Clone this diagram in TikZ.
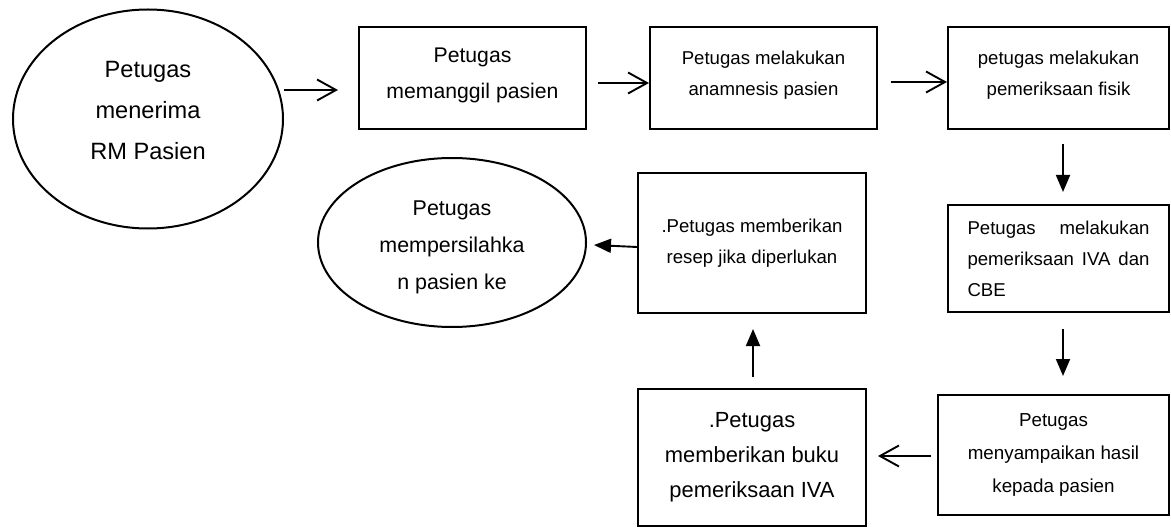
\documentclass[tikz,border=0pt]{standalone}
\usepackage{fontspec}
\setmainfont{Liberation Sans}
\usetikzlibrary{arrows.meta,shapes.geometric,calc}
% invisible struts that move a node's text block up (extra depth) or down (extra height)
\newcommand\txtup[1]{\rule[-#1]{0pt}{0pt}}
\newcommand\txtdown[1]{\rule{0pt}{#1}}
\begin{document}
\begin{tikzpicture}[x=0.5pt,y=-0.5pt,
  stepbox/.style={draw, line width=1pt, rectangle, inner sep=0pt, align=center},
  oval/.style={draw, line width=1pt, ellipse, inner sep=0pt, align=center},
  barb/.style={line width=0.95pt, -{Straight Barb[length=9.5pt,width=10.5pt,line width=0.95pt]}},
  filltip/.style={line width=0.95pt, -{Triangle[length=8.5pt,width=7pt]}},
  fA/.style={font=\fontsize{11.8pt}{20.5pt}\selectfont},
  fB/.style={font=\fontsize{10.6pt}{18pt}\selectfont},
  fC/.style={font=\fontsize{9.3pt}{15.5pt}\selectfont},
  fD/.style={font=\fontsize{10.95pt}{17.5pt}\selectfont},
  fE/.style={font=\fontsize{10.7pt}{18.5pt}\selectfont},
  fF/.style={font=\fontsize{9.4pt}{16.5pt}\selectfont}
]
\useasboundingbox (0,0) rectangle (1171,529);

% flow nodes
\node[oval, fA, minimum width=135pt, minimum height=109.5pt] (e1) at (148,119)
  {Petugas\\menerima\\RM Pasien\txtup{8.5pt}};
\node[stepbox, fB, minimum width=113.5pt, minimum height=51pt] (b1) at (472.5,78)
  {Petugas\\memanggil pasien\txtup{5pt}};
\node[stepbox, fC, minimum width=113.5pt, minimum height=51pt] (b2) at (763.5,78)
  {Petugas melakukan\\anamnesis pasien\txtup{5pt}};
\node[stepbox, fC, minimum width=110.5pt, minimum height=51pt] (b3) at (1058.5,78)
  {petugas melakukan\\pemeriksaan fisik\txtup{5pt}};
\node[stepbox, fC, align=left, minimum width=110.5pt, minimum height=53.5pt] (b4) at (1058.5,258.5)
  {\makebox[91pt][s]{Petugas melakukan}\\\makebox[91pt][s]{pemeriksaan IVA dan}\\CBE};
\node[stepbox, fF, minimum width=115.5pt, minimum height=60pt] (b5) at (1053.5,455)
  {Petugas\\menyampaikan hasil\\kepada pasien};
\node[stepbox, fD, minimum width=114pt, minimum height=68.5pt] (b6) at (752,457.5)
  {.Petugas\\memberikan buku\\pemeriksaan IVA};
\node[stepbox, fC, minimum width=114pt, minimum height=70pt] (b7) at (752,243)
  {.Petugas memberikan\\resep jika diperlukan};
\node[oval, fE, minimum width=134pt, minimum height=84.5pt] (e2) at (452,242.5)
  {\txtdown{12.5pt}Petugas\\mempersilahka\\n pasien ke};

% connectors
\draw[barb] (e1.east |- 0,90) -- ($(b1.west |- 0,90)+(-20,0)$);
\draw[barb] ($(b1.east |- 0,83)+(11,0)$) -- (b2.west |- 0,83);
\draw[barb] ($(b2.east |- 0,82)+(13,0)$) -- (b3.west |- 0,82);
\draw[filltip] ($(b3.south -| 1063,0)+(0,14)$) -- ($(b4.north -| 1063,0)+(0,-12)$);
\draw[filltip] ($(b4.south -| 1063,0)+(0,16)$) -- ($(b5.north -| 1063,0)+(0,-18)$);
\draw[barb] ($(b5.west |- 0,456)+(-6,0)$) -- ($(b6.east |- 0,456)+(11,0)$);
\draw[filltip] ($(b6.north -| 753,0)+(0,-11)$) -- ($(b7.south -| 753,0)+(0,15)$);
\draw[filltip] (b7.west |- 0,247) -- ($(e2.east |- 0,245)+(7,0)$);
\end{tikzpicture}
\end{document}
